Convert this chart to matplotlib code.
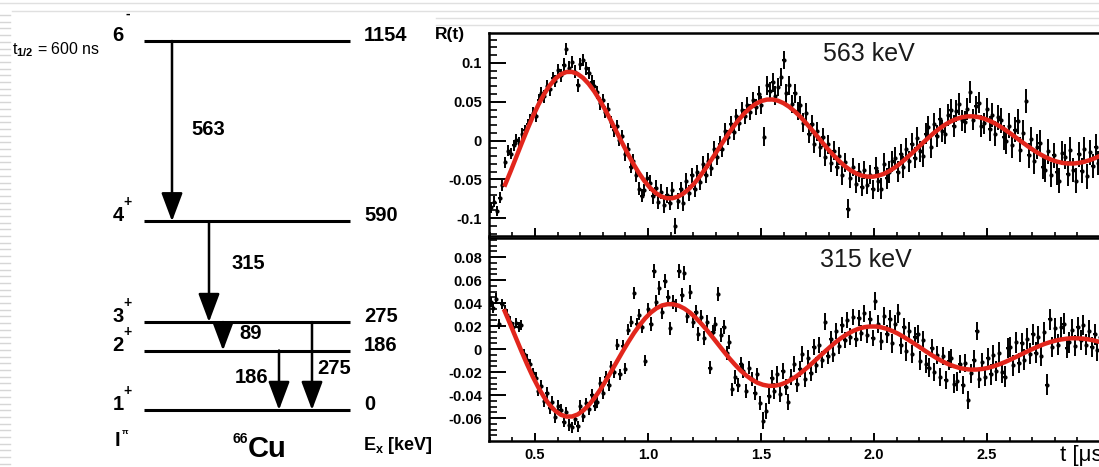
import numpy as np
import matplotlib.pyplot as plt
from matplotlib.lines import Line2D
from matplotlib.ticker import MultipleLocator, FuncFormatter

plt.rcParams['font.family'] = ['Liberation Sans', 'DejaVu Sans']
plt.rcParams['font.weight'] = 'bold'
plt.rcParams['mathtext.fontset'] = 'custom'
plt.rcParams['mathtext.rm'] = 'Liberation Sans'
plt.rcParams['mathtext.bf'] = 'Liberation Sans:bold'

# level scheme of 66Cu
level_energy = [1154, 590, 275, 186, 0]
level_spin = ['6', '4', '3', '2', '1']
level_parity = ['-', '+', '+', '+', '+']
gamma_from = [1154, 590, 275, 186, 275]
gamma_to = [590, 275, 186, 0, 0]
gamma_energy = ['563', '315', '89', '186', '275']

# R(t) gated on the 563 keV line
r_563 = [
    -0.086, -0.079, -0.091, -0.074, -0.058, -0.028, -0.013, -0.017, -0.006, 0.001,
    -0.003, 0.009, 0.013, 0.021, 0.027, 0.036, 0.032, 0.052, 0.061, 0.057,
    0.070, 0.066, 0.081, 0.077, 0.091, 0.084, 0.098, 0.118, 0.094, 0.101,
    0.089, 0.071, 0.099, 0.104, 0.093, 0.087, 0.076, 0.070, 0.062, 0.048,
    0.052, 0.037, 0.041, 0.024, 0.013, 0.019, 0.001, 0.006, -0.018, -0.011,
    -0.034, -0.026, -0.045, -0.062, -0.071, -0.064, -0.049, -0.055, -0.072, -0.061,
    -0.079, -0.066, -0.083, -0.070, -0.080, -0.064, -0.110, -0.078, -0.063, -0.081,
    -0.052, -0.068, -0.045, -0.063, -0.041, -0.054, -0.030, -0.045, -0.026, -0.036,
    -0.011, -0.021, -0.004, -0.011, 0.012, 0.004, 0.021, 0.011, 0.031, 0.022,
    0.040, 0.031, 0.046, 0.037, 0.052, 0.043, 0.060, 0.046, 0.005, 0.071,
    0.064, 0.075, 0.058, 0.069, 0.082, 0.104, 0.061, 0.071, 0.047, 0.061,
    0.038, 0.046, 0.023, 0.036, 0.009, 0.021, -0.004, 0.012, -0.009, 0.004,
    -0.021, -0.005, -0.029, -0.013, -0.034, -0.020, -0.045, -0.028, -0.088, -0.049,
    -0.034, -0.056, -0.041, -0.060, -0.038, -0.057, -0.044, -0.063, -0.035, -0.052,
    -0.062, -0.030, -0.049, -0.041, -0.027, -0.022, -0.040, -0.018, -0.034, -0.011,
    -0.027, -0.004, -0.022, 0.003, -0.014, -0.020, 0.009, 0.017, -0.008, 0.021,
    0.006, 0.028, 0.012, 0.009, 0.033, 0.040, 0.019, 0.038, 0.047, 0.026,
    0.024, 0.041, 0.063, 0.027, 0.044, 0.049, 0.019, 0.022, 0.041, 0.015,
    0.033, 0.009, 0.030, 0.026, 0.004, -0.001, 0.019, -0.006, 0.014, 0.025,
    -0.012, 0.010, 0.051, -0.019, 0.002, -0.027, -0.008, -0.003, -0.034, -0.038,
    -0.014, -0.044, -0.019, -0.041, -0.052, -0.016, -0.021, -0.043, -0.012, -0.038,
    -0.052, -0.018, -0.039, -0.011, -0.046, -0.015, -0.033, -0.008, -0.029, -0.012,
]
fit_563 = [
    -0.0569, -0.0394, -0.0212, -0.0030, 0.0147, 0.0314, 0.0467, 0.0600, 0.0710, 0.0796, 0.0854, 0.0884,
    0.0885, 0.0859, 0.0807, 0.0731, 0.0634, 0.0519, 0.0391, 0.0254, 0.0112, -0.0030,
    -0.0169, -0.0299, -0.0418, -0.0522, -0.0609, -0.0675, -0.0721, -0.0744, -0.0745, -0.0725,
    -0.0684, -0.0624, -0.0549, -0.0459, -0.0359, -0.0252, -0.0141, -0.0030, 0.0078, 0.0180,
    0.0273, 0.0355, 0.0422, 0.0474, 0.0510, 0.0528, 0.0529, 0.0513, 0.0481, 0.0435,
    0.0375, 0.0306, 0.0227, 0.0144, 0.0057, -0.0030, -0.0115, -0.0194, -0.0267, -0.0331,
    -0.0384, -0.0424, -0.0452, -0.0466, -0.0467, -0.0454, -0.0430, -0.0393, -0.0347, -0.0292,
    -0.0231, -0.0166, -0.0098, -0.0030, 0.0036, 0.0099, 0.0155, 0.0205, 0.0246, 0.0278,
    0.0300, 0.0311, 0.0312, 0.0302, 0.0282, 0.0254, 0.0218, 0.0175, 0.0127, 0.0076,
    0.0023, -0.0030, -0.0082, -0.0131, -0.0175, -0.0214, -0.0246, -0.0271, -0.0288, -0.0297,
    -0.0297, -0.0289, -0.0274, -0.0252, -0.0224, -0.0190,
]

# R(t) gated on the 315 keV line
r_315 = [
    0.041, 0.036, 0.044, 0.022, 0.039, 0.034, 0.030, 0.024, 0.019, 0.023,
    0.019, 0.021, -0.004, -0.009, -0.013, -0.021, -0.025, -0.036, -0.032, -0.045,
    -0.038, -0.051, -0.046, -0.059, -0.049, -0.053, -0.063, -0.055, -0.066, -0.068,
    -0.061, -0.067, -0.049, -0.058, -0.047, -0.052, -0.040, -0.049, -0.046, -0.029,
    -0.038, -0.024, -0.031, -0.015, -0.020, 0.004, -0.022, 0.003, -0.017, 0.017,
    0.024, 0.049, 0.022, 0.030, 0.019, -0.010, 0.035, 0.022, 0.068, 0.041,
    0.053, 0.032, 0.059, 0.045, 0.018, 0.041, 0.038, 0.068, 0.047, 0.066,
    0.029, 0.050, 0.024, 0.032, 0.013, 0.028, 0.010, 0.024, -0.016, 0.015,
    0.022, 0.048, 0.012, 0.019, -0.003, 0.006, -0.035, -0.024, -0.031, -0.013,
    -0.019, -0.036, -0.016, -0.026, -0.038, -0.022, -0.047, -0.062, -0.054, -0.041,
    -0.025, -0.036, -0.022, -0.039, -0.019, -0.033, -0.046, -0.024, -0.013, -0.030,
    -0.017, -0.004, -0.026, -0.008, -0.021, 0.002, -0.014, 0.004, -0.009, 0.024,
    -0.006, 0.009, -0.004, 0.016, 0.003, 0.021, 0.008, 0.025, 0.011, 0.028,
    0.009, 0.027, 0.014, 0.031, 0.012, 0.026, 0.010, 0.042, 0.022, 0.007,
    0.029, 0.013, 0.026, 0.005, 0.022, 0.031, 0.004, 0.019, -0.002, 0.016,
    -0.004, 0.011, 0.013, -0.010, 0.008, -0.013, -0.016, 0.001, -0.020, -0.005,
    -0.024, -0.006, -0.027, -0.010, -0.008, -0.030, -0.028, -0.013, -0.031, -0.012,
    -0.044, -0.021, -0.009, 0.016, -0.026, -0.011, -0.024, -0.008, -0.022, -0.005,
    -0.019, -0.003, -0.020, -0.024, 0.001, 0.002, -0.014, 0.006, -0.012, 0.005,
    -0.009, 0.009, -0.004, 0.013, -0.003, 0.011, -0.006, 0.015, -0.031, 0.026,
    0.002, 0.018, 0.004, 0.019, 0.022, 0.001, 0.006, 0.017, 0.003, 0.019,
    0.008, 0.021, 0.004, 0.016, 0.002, 0.013, -0.001, 0.011,
]
fit_315 = [
    0.0330, 0.0215, 0.0097, -0.0020, -0.0133, -0.0239, -0.0334, -0.0417, -0.0485, -0.0536, -0.0570, -0.0586,
    -0.0585, -0.0567, -0.0532, -0.0484, -0.0423, -0.0352, -0.0274, -0.0191, -0.0105, -0.0020,
    0.0062, 0.0139, 0.0208, 0.0268, 0.0318, 0.0355, 0.0380, 0.0391, 0.0390, 0.0377,
    0.0352, 0.0317, 0.0273, 0.0221, 0.0165, 0.0104, 0.0042, -0.0020, -0.0080, -0.0135,
    -0.0186, -0.0229, -0.0265, -0.0292, -0.0310, -0.0319, -0.0318, -0.0309, -0.0291, -0.0265,
    -0.0233, -0.0195, -0.0154, -0.0110, -0.0065, -0.0020, 0.0023, 0.0064, 0.0101, 0.0132,
    0.0158, 0.0178, 0.0191, 0.0197, 0.0197, 0.0190, 0.0177, 0.0158, 0.0135, 0.0107,
    0.0077, 0.0045, 0.0013, -0.0020, -0.0051, -0.0081, -0.0108, -0.0131, -0.0149, -0.0164,
    -0.0173, -0.0178, -0.0177, -0.0172, -0.0163, -0.0149, -0.0132, -0.0113, -0.0091, -0.0068,
    -0.0044, -0.0020, 0.0003, 0.0024, 0.0044, 0.0060, 0.0074, 0.0084, 0.0091, 0.0095,
    0.0094, 0.0091, 0.0084, 0.0074, 0.0062,
]

# statistical errors, per 0.5 us block
err_edges = [0.5, 1.0, 1.5, 2.0, 2.5]
err_563_levels = [0.007, 0.008, 0.010, 0.012, 0.014, 0.016]
err_315_levels = [0.0045, 0.005, 0.006, 0.007, 0.008, 0.009]

t_563 = np.linspace(0.3067, 3.0048, len(r_563))
t_315 = np.linspace(0.3035, 3.0010, len(r_315))
tf_563 = np.linspace(0.368, 3.005, len(fit_563))
tf_315 = np.linspace(0.366, 3.001, len(fit_315))
err_563 = np.array(err_563_levels)[np.digitize(t_563, err_edges)]
err_315 = np.array(err_315_levels)[np.digitize(t_315, err_edges)]

W, H = 1099, 467
fig = plt.figure(figsize=(W / 100, H / 100), dpi=100)


def box(x0, y0, x1, y1):
    return [x0 / W, 1 - y1 / H, (x1 - x0) / W, (y1 - y0) / H]


def ftext(x, y, s, **kw):
    fig.text(x / W, 1 - y / H, s, **kw)


# faint slide background lines
for y, x0 in [(3, 0), (11, 12), (18, 436), (25, 436)]:
    fig.add_artist(Line2D([x0 / W, 1], [1 - y / H] * 2, color='#e0e0e0', lw=1))
for y in np.arange(15, H, 6.7):
    fig.add_artist(Line2D([0, 10 / W], [1 - y / H] * 2, color='#d6d6d6', lw=1))

# ---- level scheme ----
ax0 = fig.add_axes([0, 0, 440 / W, 1])
ax0.set_xlim(0, 440)
ax0.set_ylim(-178.3, 1282.2)
ax0.axis('off')

ax0.hlines(level_energy, 144, 350, color='black', lw=2.2)
for e, s, p in zip(level_energy, level_spin, level_parity):
    ax0.text(118, e, s, ha='center', va='baseline', fontsize=14.5)
    dy = 27 if p == '-' else 19
    ax0.annotate(p, (128, e), xytext=(0, dy * 0.72), textcoords='offset points',
                 ha='center', va='center', fontsize=10)
    ax0.text(364, e, str(e), ha='left', va='baseline', fontsize=14.5)

arrow_x = [172, 209, 223, 279, 312]
label_dx = [19, 23, 16, -11, 5]
label_dy = [2, 8, 3, 3, -2]
for x, e0, e1, lab, dx, dy in zip(arrow_x, gamma_from, gamma_to, gamma_energy, label_dx, label_dy):
    ax0.annotate('', xy=(x, e1), xytext=(x, e0),
                 arrowprops=dict(arrowstyle='-|>,head_length=0.8,head_width=0.3',
                                 mutation_scale=22, lw=1.8, color='black',
                                 shrinkA=0, shrinkB=0))
    ax0.annotate(lab, (x, (e0 + e1) / 2), xytext=(dx * 0.72, dy * 0.72),
                 textcoords='offset points', ha='left' if dx > 0 else 'right',
                 va='center', fontsize=14.5)

ftext(12, 50, r't$_{1/2}$ = 600 ns', fontsize=11.5, fontweight='normal', va='center')
ftext(117, 440, 'I', fontsize=14.5, ha='center', va='center')
ftext(125, 433, 'π', fontsize=6, ha='center', va='center')
ftext(240, 439, '66', fontsize=10, ha='center', va='center')
ftext(248, 449, 'Cu', fontsize=21, ha='left', va='center')
ftext(363, 445, r'E$_\mathbf{x}$ [keV]', fontsize=13, ha='left', va='center')

# ---- R(t) panels ----
ax1 = fig.add_axes(box(489, 33, 1120, 236))
ax2 = fig.add_axes(box(489, 238, 1120, 441))


def r_fmt(v, pos):
    return '0' if abs(v) < 1e-9 else '%g' % round(v, 4)


def t_fmt(v, pos):
    # the last label would sit under the axis title
    return '' if v > 2.9 else '%.1f' % v


for ax, ylim, ymaj, ymin in [(ax1, (-0.1232, 0.1387), 0.05, 0.01),
                             (ax2, (-0.0798, 0.0966), 0.02, 0.005)]:
    ax.set_xlim(0.2965, 3.0885)
    ax.set_ylim(*ylim)
    ax.xaxis.set_major_locator(MultipleLocator(0.5))
    ax.xaxis.set_minor_locator(MultipleLocator(0.1))
    ax.xaxis.set_major_formatter(FuncFormatter(t_fmt))
    ax.yaxis.set_major_locator(MultipleLocator(ymaj))
    ax.yaxis.set_minor_locator(MultipleLocator(ymin))
    ax.yaxis.set_major_formatter(FuncFormatter(r_fmt))
    ax.tick_params(axis='y', which='major', direction='in', length=12, width=1.4,
                   pad=5, labelsize=10.5)
    ax.tick_params(axis='y', which='minor', direction='in', length=6, width=1.2)
    ax.tick_params(axis='x', which='major', direction='in', length=6, width=1.4,
                   pad=5, labelsize=10.5)
    ax.tick_params(axis='x', which='minor', direction='in', length=3.2, width=1.2)
    for sp in ax.spines.values():
        sp.set_linewidth(1.8)

ax1.tick_params(labelbottom=False)

ax1.errorbar(t_563, r_563, yerr=err_563, xerr=0.006, fmt='o', ms=2,
             color='black', ecolor='black', elinewidth=1.4, capsize=0, zorder=2)
ax1.plot(tf_563, fit_563, color='#e2261c', lw=3.2, zorder=3)
ax2.errorbar(t_315, r_315, yerr=err_315, xerr=0.006, fmt='o', ms=2,
             color='black', ecolor='black', elinewidth=1.4, capsize=0, zorder=2)
ax2.plot(tf_315, fit_315, color='#e2261c', lw=3.2, zorder=3)

ftext(435, 35, 'R(t)', fontsize=12.5, ha='left', va='center')
ftext(823, 54, '563 keV', fontsize=18, fontweight='normal', color='#1a1a1a', va='center')
ftext(820, 260, '315 keV', fontsize=18, fontweight='normal', color='#1a1a1a', va='center')
ftext(1060, 455, 't [μs]', fontsize=16, fontweight='normal', va='center')

fig.savefig('out.png', dpi=100)
